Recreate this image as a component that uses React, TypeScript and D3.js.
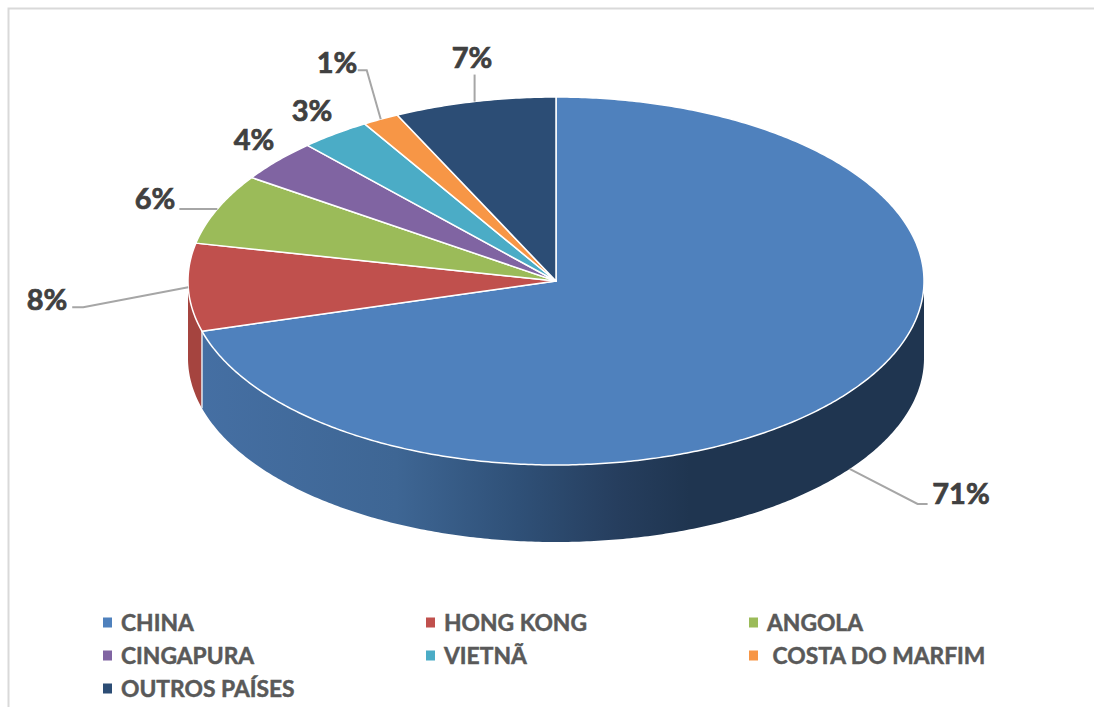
import React from "react";
import * as d3 from "d3";

const categories = ["CHINA", "HONG KONG", "ANGOLA", "CINGAPURA", "VIETNÃ", "COSTA DO MARFIM", "OUTROS PAÍSES"];
const shares = [70.6, 7.7, 6.2, 3.7, 3.1, 1.6, 7.1];
const pctLabels = ["71%", "8%", "6%", "4%", "3%", "1%", "7%"];
const topColors = ["#4f81bd", "#c0504d", "#9bbb59", "#8064a2", "#4bacc6", "#f79646", "#2c4d75"];
const sideColors = ["#1f3550", "#a5443f", "#85a04b", "#6d5589", "#3f92a8", "#d3803b", "#233e5e"];
const legendNames = ["CHINA", "HONG KONG", "ANGOLA", "CINGAPURA", "VIETNÃ", " COSTA DO MARFIM", "OUTROS PAÍSES"];

const cx = 556, cy = 281, rx = 368, ry = 184, depth = 77;
const sx = d3.scaleLinear().domain([-1, 1]).range([cx - rx, cx + rx]);
const sy = d3.scaleLinear().domain([-1, 1]).range([cy - ry, cy + ry]);
const px = (a: number) => sx(Math.sin(a));
const py = (a: number) => sy(-Math.cos(a));

const pie = d3.pie<number>().sort(null).startAngle(0).endAngle(2 * Math.PI);
const arcs = pie(shares);

function arcPoints(a0: number, a1: number, dy = 0) {
  const n = Math.max(2, Math.ceil((a1 - a0) / 0.01));
  return d3.range(n + 1).map((i) => {
    const a = a0 + ((a1 - a0) * i) / n;
    return [px(a), py(a) + dy] as [number, number];
  });
}
const line = d3.line();

function topPath(a0: number, a1: number) {
  const pts = [[cx, cy] as [number, number], ...arcPoints(a0, a1)];
  return line(pts) + "Z";
}
function sidePath(a0: number, a1: number) {
  const lo = Math.max(a0, Math.PI / 2);
  const hi = Math.min(a1, (3 * Math.PI) / 2);
  if (hi <= lo) return null;
  const t = arcPoints(lo, hi);
  const b = arcPoints(lo, hi, depth).reverse();
  return line([...t, ...b]) + "Z";
}

// offsets from the slice rim: elbow and end of each leader line
const leaders: ([number, number][] | null)[] = [
  [[68, 35], [78, 35]],
  [[-105, 20], [-116, 20]],
  [[-38, 0], [-38, 0]],
  null,
  null,
  [[-14, -49], [-23, -49]],
  [[0, -27], [0, -27]],
];
const labelPos: [number, number][] = [
  [961, 504], [47, 310], [155, 209], [254, 150], [312, 121], [337, 73], [472, 68],
];
const rimDepth = [77, 0, 0, 0, 0, 0, 0];
const legendX = [103, 426, 749];
const legendY = [623, 656, 689];

export default function App() {
  return (
    <svg width={1094} height={707} style={{ position: "absolute", left: 0, top: 0, background: "#fff" }}>
      <defs>
        <linearGradient id="chinaSide" gradientUnits="userSpaceOnUse" x1={200} x2={690} y1={0} y2={0}>
          <stop offset="0" stopColor="#456fa3" />
          <stop offset="0.4" stopColor="#3e6694" />
          <stop offset="0.65" stopColor="#2f5077" />
          <stop offset="0.85" stopColor="#263e5e" />
          <stop offset="1" stopColor="#1f3550" />
        </linearGradient>
      </defs>
      <path d="M8.5,707V8.5H1094" fill="none" stroke="#d9d9d9" strokeWidth={2} />
      {arcs.map((d, i) => {
        const p = sidePath(d.startAngle, d.endAngle);
        return p ? <path key={i} d={p} fill={i === 0 ? "url(#chinaSide)" : sideColors[i]} /> : null;
      })}
      <line x1={px(arcs[0].endAngle)} x2={px(arcs[0].endAngle)} y1={py(arcs[0].endAngle)} y2={py(arcs[0].endAngle) + depth} stroke="#e4e9f0" strokeWidth={1.5} />
      {arcs.map((d, i) => (
        <path key={i} d={topPath(d.startAngle, d.endAngle)} fill={topColors[i]} stroke="#fff" strokeWidth={1.5} strokeLinejoin="round" />
      ))}
      {arcs.map((d, i) => {
        const l = leaders[i];
        if (!l) return null;
        const m = (d.startAngle + d.endAngle) / 2;
        const x0 = px(m), y0 = py(m) + rimDepth[i];
        const pts: [number, number][] = [[x0, y0], ...l.map(([dx, dy]) => [x0 + dx, y0 + dy] as [number, number])];
        return <path key={i} d={line(pts) as string} fill="none" stroke="#a6a6a6" strokeWidth={2} />;
      })}
      {pctLabels.map((t, i) => (
        <text key={i} x={labelPos[i][0]} y={labelPos[i][1]} textAnchor="middle" fontFamily="Lato, sans-serif" fontWeight={700} fontSize={29} fill="#404040" stroke="#404040" strokeWidth={0.7}>{t}</text>
      ))}
      {legendNames.map((t, i) => {
        const x = legendX[i % 3];
        const y = legendY[Math.floor(i / 3)];
        return (
          <g key={categories[i]}>
            <rect x={x} y={y - 5.5} width={9} height={10} fill={topColors[i]} />
            <text x={x + 18} y={y + 8} fontFamily="Lato, sans-serif" fontWeight={700} fontSize={22.8} fill="#595959" stroke="#595959" strokeWidth={0.5} style={{ whiteSpace: "pre" }}>{t}</text>
          </g>
        );
      })}
    </svg>
  );
}
